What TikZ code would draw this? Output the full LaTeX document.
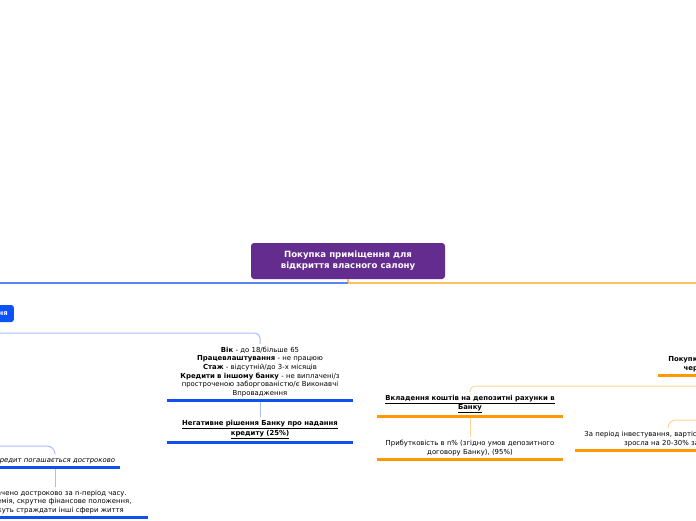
\documentclass[tikz,border=0pt]{standalone}
\usepackage{fontspec}
\setmainfont{DejaVu Sans}
\usetikzlibrary{positioning}

\definecolor{rootpurple}{RGB}{101,44,144}
\definecolor{nodeblue}{RGB}{10,82,250}
\definecolor{barblue}{RGB}{16,80,240}
\definecolor{linkblue}{RGB}{168,190,246}
\definecolor{busblue}{RGB}{90,132,240}
\definecolor{barorange}{RGB}{255,153,0}
\definecolor{linkorange}{RGB}{255,214,150}
\definecolor{busorange}{RGB}{255,190,95}
\newcommand\uln[1]{\underline{#1}}

\begin{document}
\begin{tikzpicture}[x=1pt, y=-1pt,
  rootbox/.style={fill=rootpurple, rounded corners=3pt, minimum width=194pt, minimum height=36pt,
    text=white, align=center, font=\bfseries\fontsize{8.6}{11}\selectfont},
  branch/.style={fill=nodeblue, rounded corners=2.5pt, minimum height=17pt, inner xsep=6pt,
    text=white, font=\bfseries\fontsize{6.9}{8}\selectfont},
  topic/.style={text width=175pt, inner xsep=5pt, inner ysep=3pt, align=center, anchor=south,
    font=\fontsize{6.9}{8.6}\selectfont},
  bluebar/.style={barblue, line width=3pt},
  orangebar/.style={barorange, line width=3pt},
  bluelink/.style={linkblue, line width=1pt, rounded corners=5pt},
  orangelink/.style={linkorange, line width=1pt, rounded corners=5pt}
]
\useasboundingbox (0,0) rectangle (696,520);

% root and main lines
\node[rootbox] (root) at (348,261) {Покупка приміщення для\\відкриття власного салону};
\coordinate (fork) at (348,283);
\coordinate (blueend) at (0,283);
\coordinate (orangeend) at (696,283);
\draw[busorange, line width=1.2pt] (root.south) -- (fork) -- (orangeend);
\draw[busblue, line width=1.2pt] (fork) -- (blueend);

% credit branch
\node[branch, anchor=east] (credit) at (14,313.5) {Кредитування};
\node[topic] (criteria) at (260,400) {\textbf{Вік} - до 18/більше 65\\
  \textbf{Працевлаштування} - не працюю\\
  \textbf{Стаж} - відсутній/до 3-х місяців\\
  \textbf{Кредити в іншому банку} - не виплачені/з\\
  простроченою заборгованістю/є Виконавчі\\
  Впровадження};
\node[topic, font=\bfseries\fontsize{6.9}{8.6}\selectfont] (refusal) at (260,442)
  {\uln{Негативне рішення Банку про надання}\\\uln{кредиту (25\%)}};
\node[topic, text width=, font=\itshape\fontsize{6.9}{8.6}\selectfont] (early) at (55,467)
  {Кредит погашається достроково};
\node[topic] (reason) at (55,517) {Сплачено достроково за n-період часу.\\
  Пандемія, скрутне фінансове положення,\\
  можуть страждати інші сфери життя};
\coordinate (c1) at (0,333);
\coordinate (c2) at (0,446);
\draw[bluelink] (c1) -| (criteria.north);
\draw[bluelink] (criteria.south) -- (refusal.north);
\draw[bluelink, rounded corners=8pt] (c2) -| (early.north);
\draw[bluelink] (early.south) -- (reason.north);
\foreach \n in {criteria,refusal,early,reason}
  \draw[bluebar] (\n.south west) -- (\n.south east);

% own funds branch
\node[topic, font=\bfseries\fontsize{6.9}{8.6}\selectfont] (saving) at (751,375)
  {Покупка приміщення за рахунок власних\\через n-період часу накопичення};
\node[topic, font=\bfseries\fontsize{6.9}{8.6}\selectfont] (deposit) at (470,416)
  {\uln{Вкладення коштів на депозитні рахунки в}\\\uln{Банку}};
\node[topic] (profit) at (470,459)
  {Прибутковість в n\% (згідно умов депозитного\\договору Банку), (95\%)};
\node[topic] (value) at (668,450)
  {За період інвестування, вартість приміщення\\зросла на 20-30\% за рік};
\coordinate (o1) at (696,386);
\coordinate (o2) at (696,420);
\draw[orangelink] (o1) -| (deposit.north);
\draw[orangelink] (deposit.south) -- (profit.north);
\draw[orangelink, rounded corners=8pt] (o2) -| (value.north);
\foreach \n in {saving,deposit,profit,value}
  \draw[orangebar] (\n.south west) -- (\n.south east);
\end{tikzpicture}
\end{document}
